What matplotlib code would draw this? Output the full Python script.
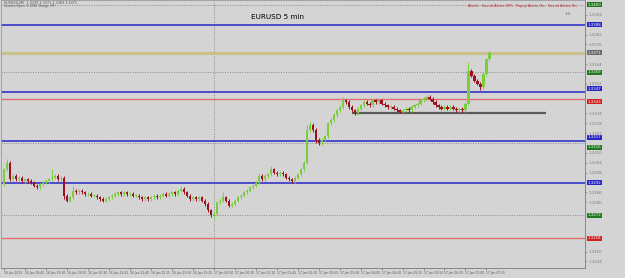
import numpy as np
import pandas as pd
import matplotlib
matplotlib.use("Agg")
import matplotlib.pyplot as plt
import matplotlib.transforms as mtransforms

# EURUSD M5 closes
closes = [
    1.3300, 1.3304, 1.3294, 1.3296, 1.3294, 1.3295, 1.3293, 1.3294, 1.3293, 1.3292,
    1.3290, 1.3289, 1.3291, 1.3292, 1.3293, 1.3294, 1.3295, 1.3296, 1.3294, 1.3295,
    1.3284, 1.3281, 1.3283, 1.3287, 1.3286, 1.3287, 1.3286, 1.3285, 1.3285, 1.3284,
    1.3284, 1.3283, 1.3282, 1.3281, 1.3282, 1.3283, 1.3284, 1.3285, 1.3286, 1.3285,
    1.3286, 1.3285, 1.3285, 1.3284, 1.3284, 1.3283, 1.3282, 1.3283, 1.3282, 1.3283,
    1.3284, 1.3283, 1.3284, 1.3285, 1.3284, 1.3285, 1.3286, 1.3285, 1.3287, 1.3288,
    1.3286, 1.3284, 1.3282, 1.3283, 1.3282, 1.3283, 1.3281, 1.3279, 1.3275, 1.3272,
    1.3273, 1.3280, 1.3281, 1.3283, 1.3281, 1.3278, 1.3279, 1.3281, 1.3283, 1.3284,
    1.3286, 1.3287, 1.3289, 1.3290, 1.3292, 1.3296, 1.3294, 1.3296, 1.3297, 1.3300,
    1.3298, 1.3297, 1.3298, 1.3297, 1.3295, 1.3294, 1.3293, 1.3295, 1.3297, 1.3300,
    1.3304, 1.3324, 1.3327, 1.3324, 1.3318, 1.3316, 1.3318, 1.3320, 1.3328, 1.3330,
    1.3333, 1.3336, 1.3338, 1.3342, 1.3341, 1.3338, 1.3336, 1.3334, 1.3337, 1.3339,
    1.3341, 1.3340, 1.3339, 1.3342, 1.3341, 1.3342, 1.3340, 1.3339, 1.3338, 1.3338,
    1.3337, 1.3336, 1.3335, 1.3336, 1.3337, 1.3336, 1.3338, 1.3339, 1.3340, 1.3342,
    1.3343, 1.3344, 1.3343, 1.3341, 1.3339, 1.3338, 1.3337, 1.3338, 1.3337, 1.3338,
    1.3337, 1.3336, 1.3337, 1.3336, 1.3340, 1.3360, 1.3357, 1.3354, 1.3352, 1.3350,
    1.3358, 1.3367, 1.3371,
]
first_open = 1.3291

# wick lengths in pips above / below the body
upper_wick = [
    1, 2, 1, 1, 1, 1, 1, 1, 1, 1,
    1, 1, 1, 1, 1, 1, 5, 1, 1, 1,
    1, 1, 1, 3, 1, 1, 1, 1, 1, 1,
    1, 1, 1, 1, 1, 1, 1, 1, 1, 1,
    1, 1, 1, 1, 1, 1, 1, 1, 1, 1,
    1, 1, 1, 1, 1, 1, 1, 1, 1, 2,
    1, 1, 1, 1, 1, 1, 1, 1, 1, 1,
    1, 1, 1, 3, 1, 1, 1, 1, 1, 1,
    1, 1, 1, 1, 1, 2, 1, 1, 1, 2,
    1, 1, 1, 1, 1, 1, 1, 1, 1, 1,
    1, 3, 2, 1, 1, 1, 1, 1, 1, 1,
    1, 1, 1, 2, 1, 1, 1, 1, 1, 1,
    1, 1, 1, 1, 1, 1, 1, 1, 1, 1,
    1, 1, 1, 1, 1, 1, 1, 1, 1, 1,
    1, 1, 1, 1, 1, 1, 1, 1, 1, 1,
    1, 1, 1, 1, 1, 5, 1, 1, 1, 1,
    1, 1, 1,
]
lower_wick = [
    1, 1, 1, 1, 1, 1, 1, 1, 1, 1,
    1, 1, 1, 1, 1, 1, 1, 1, 1, 1,
    2, 1, 1, 1, 1, 1, 1, 1, 1, 1,
    1, 1, 1, 1, 1, 1, 1, 1, 1, 1,
    1, 1, 1, 1, 1, 1, 1, 1, 1, 1,
    1, 1, 1, 1, 1, 1, 1, 1, 1, 1,
    1, 1, 1, 1, 1, 1, 1, 1, 1, 1,
    2, 1, 1, 1, 1, 1, 1, 1, 1, 1,
    1, 1, 1, 1, 1, 1, 1, 1, 1, 1,
    1, 1, 1, 1, 1, 1, 1, 1, 1, 1,
    1, 1, 1, 1, 2, 1, 1, 1, 1, 1,
    1, 1, 1, 1, 1, 1, 1, 1, 1, 1,
    1, 1, 1, 1, 1, 1, 1, 1, 1, 1,
    1, 1, 1, 1, 1, 1, 1, 1, 1, 1,
    1, 1, 1, 1, 1, 1, 1, 1, 1, 1,
    1, 1, 1, 1, 1, 1, 1, 1, 1, 2,
    1, 1, 1,
]

# horizontal levels drawn on the chart
blue_levels = [1.3388, 1.3347, 1.3317, 1.3292]
red_levels = [1.3343, 1.3258]
dotted_levels = [1.3400, 1.3359, 1.3316, 1.3272]
khaki_level = 1.3371
range_low = 1.3334
range_start, range_end = 116, 181

start_time = "2013-01-16 18:10"
separator_bar = 70

BG = "#d4d4d4"
BULL = "#7ccd3c"
BEAR = "#9e1020"
BLUE = "#2626c8"
RED = "#e07070"

opens = [first_open] + closes[:-1]
o = np.array(opens)
c = np.array(closes)
hi = np.maximum(o, c) + np.array(upper_wick) * 0.0001
lo = np.minimum(o, c) - np.array(lower_wick) * 0.0001
idx = np.arange(len(closes))
up = c >= o

fig = plt.figure(figsize=(6.25, 2.78), dpi=100, facecolor=BG)
ax = fig.add_axes([0.002, 10 / 278, 584 / 625, 268 / 278])
ax.set_facecolor(BG)
ax.set_xlim(-1, 194)
ax.set_ylim(1.3240, 1.3403)

# levels
for lv in dotted_levels:
    ax.axhline(lv, color="#8a8a8a", lw=0.7, ls=(0, (1, 1.5)), zorder=1)
for lv in blue_levels:
    ax.axhline(lv, color=BLUE, lw=1.1, zorder=2)
for lv in red_levels:
    ax.axhline(lv, color=RED, lw=1.0, zorder=2)
ax.axhline(khaki_level, color="#c9c08a", lw=2.2, zorder=2)
ax.hlines(range_low, range_start, range_end, color="#5a5a5a", lw=1.6, zorder=2)
ax.axvline(separator_bar, color="#8a8a8a", lw=0.7, ls=(0, (1, 1.5)), zorder=1)

# candles
ax.vlines(idx[up], lo[up], hi[up], color=BULL, lw=0.7, zorder=3)
ax.vlines(idx[~up], lo[~up], hi[~up], color=BEAR, lw=0.7, zorder=3)
body = np.maximum(np.abs(c - o), 0.00003)
ax.bar(idx[up], body[up], bottom=np.minimum(o, c)[up], width=0.75, color=BULL, zorder=4)
ax.bar(idx[~up], body[~up], bottom=np.minimum(o, c)[~up], width=0.75, color=BEAR, zorder=4)

# highlighted level labels on the price axis
level_tags = ([(lv, "#1f7a1f") for lv in dotted_levels] +
              [(lv, BLUE) for lv in blue_levels] +
              [(lv, "#d02020") for lv in red_levels] +
              [(khaki_level, "#6a6a6a")])
tag_prices = [lv for lv, _ in level_tags]

# price axis on the right, plain labels hidden where a tag sits
yt = np.arange(1.3244, 1.3403, 0.0006)
yt = [v for v in yt if min(abs(v - t) for t in tag_prices) > 0.00045]
ax.yaxis.tick_right()
ax.set_yticks(yt)
ax.set_yticklabels([f"{v:.4f}" for v in yt])
ax.tick_params(axis="y", labelsize=2.8, colors="#7a7a7a", length=1.5, width=0.4, pad=1)

# time axis
times = pd.date_range(start_time, periods=len(closes), freq="5min")
tick_bars = list(range(0, len(closes), 7))
tick_labels = []
for b in tick_bars:
    if b == 0:
        tick_labels.append(times[b].strftime("%d %b %Y"))
    else:
        tick_labels.append(times[b].strftime("%d %b %H:%M"))
ax.set_xticks(tick_bars)
ax.set_xticklabels(tick_labels, ha="left")
ax.tick_params(axis="x", labelsize=2.2, colors="#555555", length=1.5, width=0.4, pad=1)

for side in ["top", "left"]:
    ax.spines[side].set_color("#9a9a9a")
    ax.spines[side].set_linewidth(0.6)
for side in ["right", "bottom"]:
    ax.spines[side].set_color("#7a7a7a")
    ax.spines[side].set_linewidth(0.6)

trans = mtransforms.blended_transform_factory(ax.transAxes, ax.transData)
for lv, col in level_tags:
    # the blue 1.3317 tag sits just above the green 1.3316 one
    nudge = 0.00025 if (lv == 1.3317) else (-0.00025 if lv == 1.3316 else 0)
    nudge = 0.0002 if lv == 1.3347 else (-0.0002 if lv == 1.3343 else nudge)
    ax.text(1.004, lv + nudge, f"{lv:.4f}", transform=trans, fontsize=2.8, color="white",
            va="center", ha="left", clip_on=False, zorder=6,
            bbox=dict(boxstyle="square,pad=0.12", fc=col, ec="none"))

# texts
ax.text(0.004, 0.997, "EURUSD,M5  1.3370 1.3371 1.3369 1.3371", transform=ax.transAxes,
        fontsize=2.4, color="#555555", va="top", ha="left")
ax.text(0.004, 0.984, "Session Open: 1.3296  Range: 99", transform=ax.transAxes,
        fontsize=2.2, color="#555555", va="top", ha="left")
ax.text(0.428, 0.935, "EURUSD 5 min", transform=ax.transAxes, fontsize=5.2,
        color="black", va="center", ha="left")
ax.text(0.985, 0.985, "Alerts:  Sound Alerts OFF,  Popup Alerts On,  Sound Alerts On",
        transform=ax.transAxes, fontsize=2.5, color="#c02020", va="top", ha="right")
ax.text(0.975, 0.955, "1:5", transform=ax.transAxes, fontsize=3, color="#666666",
        va="top", ha="right")

fig.savefig("out.png", dpi=100, facecolor=BG)
